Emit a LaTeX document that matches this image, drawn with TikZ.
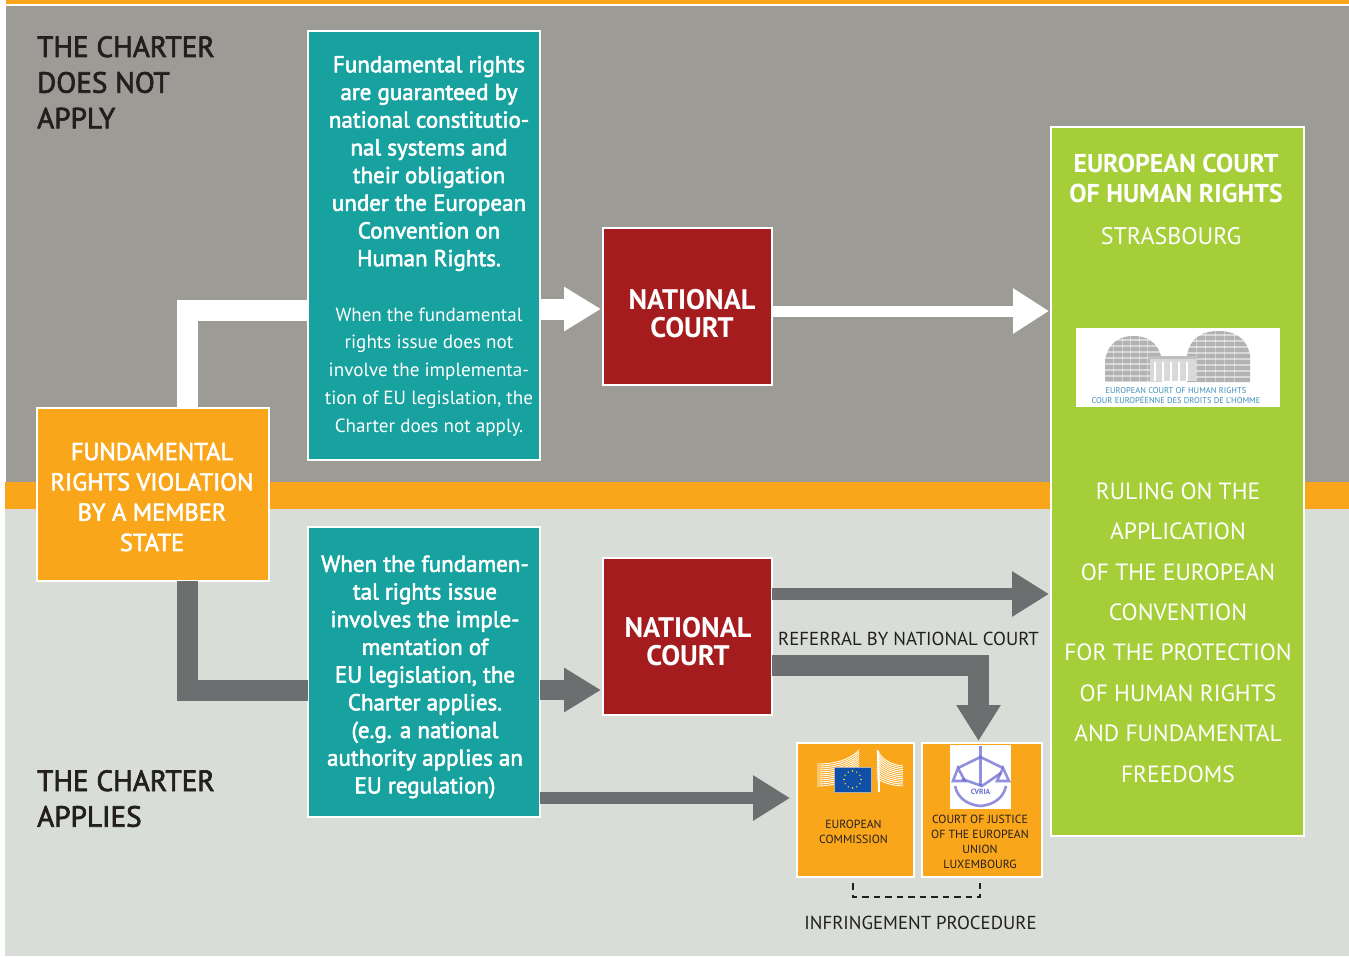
\documentclass[tikz,border=0pt]{standalone}
\usepackage{fontspec}
\setmainfont{PT Sans}
\usetikzlibrary{arrows.meta,positioning}
\definecolor{topgray}{HTML}{9D9B95}
\definecolor{lowgray}{HTML}{D8DDD8}
\definecolor{orng}{HTML}{FAA61A}
\definecolor{teal1}{HTML}{17A19F}
\definecolor{red1}{HTML}{A51C1F}
\definecolor{green1}{HTML}{A6CE39}
\definecolor{arrgray}{HTML}{6D6E70}
\definecolor{inkk}{HTML}{231F20}
\definecolor{logoblue}{HTML}{3E8FB8}
\definecolor{flag}{HTML}{0F4FA8}
\newcommand\strokeW{\special{pdf:code 2 Tr 0.55 w 1 1 1 RG}}
\newcommand\strokeK{\special{pdf:code 2 Tr 0.7 w 0.137 0.122 0.125 RG}}
\newcommand\strokeOff{\special{pdf:code 0 Tr 0 0 0 RG}}
\tikzset{
  boxn/.style={draw=white,line width=2.5pt,inner sep=0pt,outer sep=0pt,anchor=north west},
  heading/.style={anchor=north west,align=left,text=inkk,inner sep=0pt,font=\fontsize{29.2}{35.7}\selectfont},
  wtext/.style={text=white,align=center,inner sep=0pt},
  bodyb/.style={wtext,font=\fontsize{23}{27.7}\selectfont},
  bodyr/.style={wtext,font=\fontsize{19.1}{27.8}\selectfont},
  caps/.style={wtext,font=\fontsize{24.4}{30.3}\selectfont},
  court/.style={wtext,font=\fontsize{28.3}{28}\selectfont\bfseries},
  small/.style={text=inkk,align=center,inner sep=0pt,font=\fontsize{11.8}{15}\selectfont},
  lab/.style={text=inkk,inner sep=0pt,font=\fontsize{18.8}{22}\selectfont},
  fatw/.style={line width=21pt,white},
  fatg/.style={line width=21pt,arrgray},
  bigw/.style={white,line width=21pt,shorten >=2pt,-{Triangle[length=37pt,width=42pt]}},
  thinw/.style={white,line width=11pt,shorten >=2pt,-{Triangle[length=36pt,width=43pt]}},
  bigg/.style={arrgray,line width=20pt,shorten >=2pt,-{Triangle[length=37pt,width=42pt]}},
  thing/.style={arrgray,line width=12pt,-{Triangle[length=37pt,width=43pt]}},
}
\begin{document}
\begin{tikzpicture}[x=1pt,y=-1pt]
\useasboundingbox (0,0) rectangle (1349,956);
\fill[white] (0,0) rectangle (1349,956);
\fill[orng] (6,0) rectangle (1349,4);
\fill[topgray] (6,6) rectangle (1349,482);
\fill[lowgray] (5,509) rectangle (1349,956);
\fill[orng] (5,482) rectangle (1349,509);

\node[heading] (h1) at (37,36) {\strokeK THE CHARTER\\DOES NOT\\APPLY\strokeOff};
\node[heading] (h2) at (37,770) {\strokeK THE CHARTER\\APPLIES\strokeOff};

\coordinate (wcorner) at (187.5,310);
\coordinate (gcorner) at (187.5,690);
\coordinate (rcorner) at (978.5,665);

% boxes (geometry)
\node[boxn,fill=orng,minimum width=232pt,minimum height=173pt] (viol) at (37,408) {};
\node[boxn,fill=teal1,minimum width=232pt,minimum height=429pt] (t1) at (308,31) {};
\node[boxn,fill=teal1,minimum width=232pt,minimum height=290pt] (t2) at (308,527) {};
\node[boxn,fill=red1,minimum width=169pt,minimum height=157pt] (n1) at (603,228) {};
\node[boxn,fill=red1,minimum width=169pt,minimum height=157pt] (n2) at (603,558) {};
\node[boxn,fill=green1,minimum width=253pt,minimum height=709pt] (ecthr) at (1051,127) {};
\node[boxn,fill=orng,minimum width=117pt,minimum height=134pt] (ec) at (797,743) {};
\node[boxn,fill=orng,minimum width=120pt,minimum height=134pt] (cj) at (922,743) {};

% connectors
\draw[fatw] (viol.north -| wcorner) -- (wcorner) -- (t1.west |- wcorner);
\draw[fatg] (viol.south -| gcorner) -- (gcorner) -- (t2.west |- gcorner);
\draw[bigw] (t1.east |- 0,309) -- (n1.west |- 0,309);
\draw[thinw] (n1.east |- 0,311) -- (ecthr.west |- 0,311);
\draw[bigg] (t2.east |- 0,690) -- (n2.west |- 0,690);
\draw[thing,shorten >=2pt] (n2.east |- 0,594) -- (ecthr.west |- 0,594);
\draw[arrgray,line width=21pt,-{Triangle[length=36pt,width=42pt]}] (n2.east |- rcorner) -- (rcorner) -- (978.5,741);
\draw[thing,shorten >=7pt] (t2.east |- 0,798) -- (ec.west |- 0,798);

% box texts
\node[caps] at (152,497) {\strokeW FUNDAMENTAL\\RIGHTS VIOLATION\\BY A MEMBER\\STATE\strokeOff};
\node[bodyb] at (429,163.5) {\strokeW Fundamental rights\\are guaranteed by\\national constitutio-\\nal systems and\\their obligation\\under the European\\Convention on\\Human Rights.\strokeOff};
\node[bodyr] at (429,372) {When the fundamental\\rights issue does not\\involve the implementa-\\tion of EU legislation, the\\Charter does not apply.};
\node[bodyb] at (425,677) {\strokeW When the fundamen-\\tal rights issue\\involves the imple-\\mentation of\\EU legislation, the\\Charter applies.\\(e.g. a national\\authority applies an\\EU regulation)\strokeOff};
\node[court] at (692,313.5) {NATIONAL\\COURT};
\node[court] at (688,641.5) {NATIONAL\\COURT};
\node[wtext,font=\fontsize{25.8}{30}\selectfont\bfseries] at (1176,178) {EUROPEAN COURT\\OF HUMAN RIGHTS};
\node[wtext,font=\fontsize{24}{28}\selectfont] at (1171,236) {STRASBOURG};
\node[wtext,font=\fontsize{23.5}{40.4}\selectfont] at (1178,632.5) {RULING ON THE\\APPLICATION\\OF THE EUROPEAN\\CONVENTION\\FOR THE PROTECTION\\OF HUMAN RIGHTS\\AND FUNDAMENTAL\\FREEDOMS};

% ECtHR logo
\fill[white] (1076,328) rectangle (1280,407);
\foreach \xa/\xb/\yt in {1105/1162/336,1187/1250/331}{
  \fill[gray!60] (\xa,382) -- (\xa,\yt+24) .. controls (\xa+4,\yt+4) and ({\xa+(\xb-\xa)*.3},\yt) .. ({(\xa+\xb)/2},\yt) .. controls ({\xb-(\xb-\xa)*.3},\yt) and (\xb-4,\yt+4) .. (\xb,\yt+24) -- (\xb,382) -- cycle;
  \foreach \yy in {0,6,...,42}{ \draw[white,line width=1.2pt,opacity=.5] (\xa,\yt+4+\yy) -- (\xb,\yt+4+\yy); }
  \foreach \xx in {.15,.3,...,.9}{ \draw[white,line width=1pt,opacity=.4] ({\xa+(\xb-\xa)*\xx},\yt) -- ({\xa+(\xb-\xa)*\xx},382); }
}
\fill[gray!30] (1150,358) rectangle (1196,381);
\foreach \xx in {1155,1163,...,1193}{ \draw[white,line width=1.6pt] (\xx,362) -- (\xx,381); }
\fill[gray!50] (1148,356) rectangle (1198,359);
\node[text=logoblue,inner sep=0pt,font=\fontsize{8.45}{9}\selectfont] (lg1) at (1176,391) {EUROPEAN COURT OF HUMAN RIGHTS};
\node[text=logoblue,inner sep=0pt,font=\fontsize{8.45}{9}\selectfont] (lg2) at (1176,400) {COUR EUROPÉENNE DES DROITS DE L'HOMME};

% EC logo
\foreach \i in {0,...,11}{
  \draw[white,line width=.9pt] (817,764+\i*2) .. controls (835,764+\i*2) and (850,760+\i*1.8) .. (859,750+\i*2.2);
  \draw[white,line width=.9pt] (877,750+\i*2.6) .. controls (882,760+\i*2) and (892,765+\i*1.9) .. (903,766+\i*1.8);
}
\fill[white] (877,750) -- (878,792) -- (880,792) -- (879,751) -- cycle;
\fill[flag] (834,767) rectangle (871,792);
\draw[gray!60,line width=.5pt] (834,767) rectangle (871,792);
\foreach \a in {0,30,...,330}{ \fill[yellow!90!orange] ({852.5+8.5*cos(\a)},{779.5+8.5*sin(\a)}) circle (.8pt); }
\node[small] (ectext) at (853.5,832) {EUROPEAN\\COMMISSION};

% CJEU logo
\fill[white] (950,745) rectangle (1011,809);
\begin{scope}[draw=blue!55!gray!75,line width=2.6pt,opacity=.75]
\draw (980.5,746) -- (980.5,786);
\draw (958,768) -- (980.5,757) -- (1003,768);
\draw (958,768) -- (953,781) -- (965,781) -- cycle;
\draw (1003,768) -- (997,781) -- (1009,781) -- cycle;
\draw (962,779) -- (982,786) -- (1001,773);
\draw (955,786) .. controls (958,800) and (970,805) .. (980.5,806) .. controls (991,805) and (1003,800) .. (1006,786);
\end{scope}
\node[text=blue!55!gray!75,inner sep=0pt,font=\fontsize{7.5}{8}\selectfont\bfseries] (cur) at (980.5,792) {CVRIA};
\node[small] (cjtext) at (980,841.5) {COURT OF JUSTICE\\OF THE EUROPEAN\\UNION\\LUXEMBOURG};

% dashed bracket
\draw[inkk,line width=2pt,dash pattern=on 6.5pt off 5pt] (853,883) -- (853,897) -- (980,897) -- (980,883);
\node[lab] (inf) at (920.5,923) {INFRINGEMENT PROCEDURE};
\node[lab] (ref) at (908.5,639) {REFERRAL BY NATIONAL COURT};
\end{tikzpicture}
\end{document}
